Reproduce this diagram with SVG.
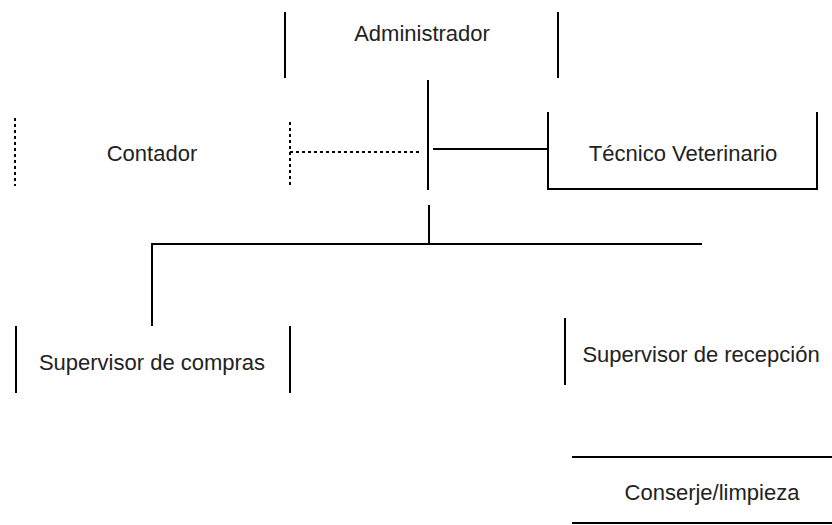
<svg xmlns="http://www.w3.org/2000/svg" width="832" height="525" viewBox="0 0 832 525">
<style>
.s{stroke:#000;stroke-width:2;fill:none}
.d{stroke:#000;stroke-width:2;fill:none;stroke-dasharray:3 3}
.t{font-family:"Liberation Sans",Arial,sans-serif;font-size:22px;fill:#222;text-anchor:middle;dominant-baseline:central}
</style>
<rect width="832" height="525" fill="#fff"/>
<g id="connectors">
<line class="s" x1="428" y1="80" x2="428" y2="190"/>
<line class="s" x1="429" y1="205" x2="429" y2="243" stroke="#777"/>
<line class="d" x1="290" y1="152" x2="420" y2="152"/>
<line class="s" x1="433" y1="149" x2="548" y2="149"/>
<polyline class="s" points="152,326 152,244 702,244"/>
</g>
<g id="administrador">
<line class="s" x1="285" y1="12" x2="285" y2="78"/>
<line class="s" x1="558" y1="12" x2="558" y2="78"/>
<text class="t" x="422" y="33">Administrador</text>
</g>
<g id="contador">
<line class="d" x1="15" y1="118" x2="15" y2="186"/>
<line class="d" x1="290" y1="122" x2="290" y2="186"/>
<text class="t" x="152" y="153">Contador</text>
</g>
<g id="tecnico">
<polyline class="s" points="548,112 548,189 817,189 817,112"/>
<text class="t" x="683" y="153">Técnico Veterinario</text>
</g>
<g id="supervisor-compras">
<line class="s" x1="16" y1="326" x2="16" y2="393"/>
<line class="s" x1="290" y1="326" x2="290" y2="393"/>
<text class="t" x="152" y="362">Supervisor de compras</text>
</g>
<g id="supervisor-recepcion">
<line class="s" x1="565" y1="318" x2="565" y2="385"/>
<text class="t" x="701" y="354">Supervisor de recepción</text>
</g>
<g id="conserje">
<line class="s" x1="572" y1="457" x2="832" y2="457"/>
<line class="s" x1="572" y1="523" x2="832" y2="523" stroke="#666"/>
<text class="t" x="712" y="492">Conserje/limpieza</text>
</g>
</svg>
